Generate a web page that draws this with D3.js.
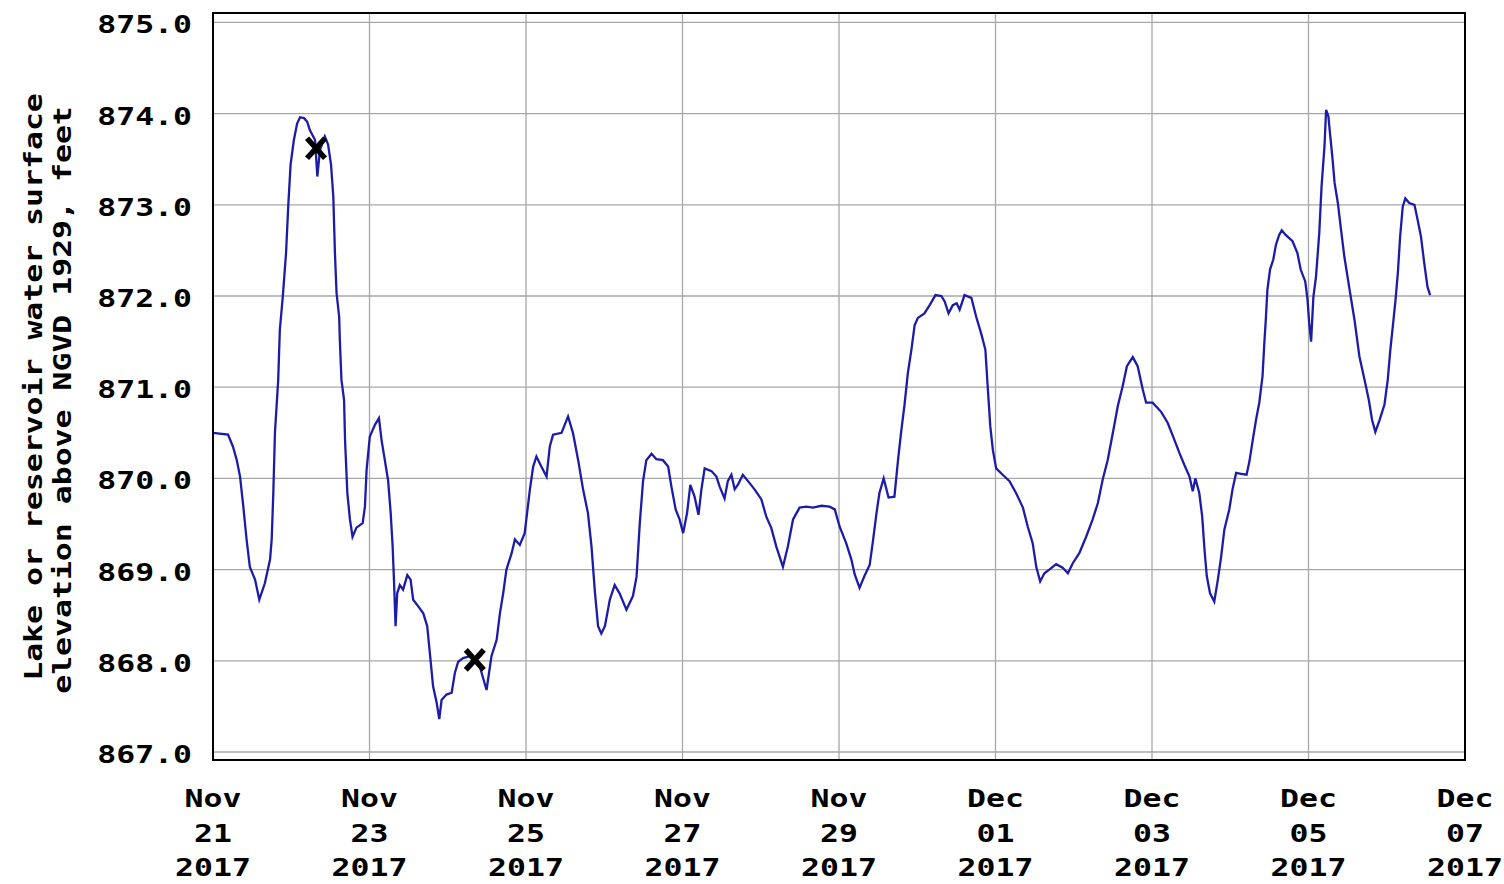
<!DOCTYPE html>
<html>
<head>
<meta charset="utf-8">
<script src="https://cdn.jsdelivr.net/npm/d3@7"></script>
<style>
  html, body { margin: 0; padding: 0; background: #ffffff; }
  svg { display: block; }
  .lbl { font-family: "DejaVu Sans Mono", "Liberation Mono", monospace; font-weight: bold; font-size: 25px; fill: #000; }
</style>
</head>
<body>
<svg id="chart" width="1504" height="884"></svg>
<script>
// ---- Data (hours after 2017-11-21 00:00, elevation in feet) ----
const startDate = Date.UTC(2017, 10, 21, 0, 0, 0);
const endDate = Date.UTC(2017, 11, 7, 0, 0, 0);
const hours = [
  0, 4.6, 6.1, 7.3, 8.3, 9.3, 10.3, 11.3, 12.9, 14.2, 15.9, 17.5, 18.0, 18.5, 19.0, 20.0, 20.5, 21.4, 22.4, 23.1,
  23.8, 24.8, 25.8, 26.7, 27.9, 28.9, 29.7, 31.3, 32.0, 32.8, 34.3, 35.3, 36.2, 36.9, 37.4, 37.9, 38.7, 38.9, 39.4, 40.2,
  40.5, 41.2, 42.0, 42.8, 44.0, 45.9, 46.6, 47.1, 48.1, 49.7, 50.9, 51.7, 52.7, 53.7, 54.5, 55.1, 55.5, 56.0, 56.5, 57.3,
  58.3, 59.6, 60.6, 61.4, 62.9, 64.5, 65.7, 66.5, 67.5, 68.6, 69.4, 70.1, 71.6, 73.2, 74.2, 75.2, 76.7, 78.8, 81.8, 83.9,
  85.4, 87.0, 88.0, 89.0, 90.0, 91.6, 92.6, 94.1, 95.6, 97.2, 98.2, 99.2, 100.7, 102.3, 103.3, 104.3, 106.9, 108.9, 110.4, 112.0,
  113.5, 115.0, 116.1, 117.1, 118.1, 119.1, 120.2, 121.7, 123.2, 124.7, 126.8, 128.8, 129.9, 130.9, 131.9, 132.9, 134.5, 136.0, 138.0, 139.6,
  140.6, 141.9, 143.1, 144.2, 145.4, 146.4, 147.7, 148.9, 149.8, 150.8, 152.9, 154.4, 155.4, 156.9, 157.9, 159.0, 160.0, 161.0, 162.5, 164.1,
  166.1, 168.2, 169.7, 171.2, 172.8, 174.8, 176.3, 177.9, 179.9, 182.0, 184.0, 186.6, 189.1, 190.7, 192.2, 194.2, 195.8, 196.8, 198.3, 199.8,
  201.4, 202.4, 203.5, 204.4, 205.7, 207.2, 209.0, 210.1, 211.1, 212.1, 213.1, 214.2, 215.2, 216.2, 218.2, 219.8, 221.6, 223.4, 224.4, 225.6,
  226.9, 228.1, 229.0, 230.5, 232.6, 234.1, 235.6, 236.9, 237.6, 238.4, 239.2, 240.2, 242.2, 244.3, 246.3, 248.4, 249.9, 251.4, 252.5, 253.7,
  255.0, 256.5, 258.6, 260.6, 262.2, 263.7, 265.7, 267.8, 269.8, 271.4, 272.9, 274.4, 276.0, 277.5, 279.0, 280.3, 282.1, 283.6, 285.2, 286.2,
  288.2, 290.8, 292.8, 294.9, 296.4, 297.9, 299.5, 300.5, 301.3, 302.5, 303.4, 304.1, 304.8, 305.8, 307.1, 308.2, 309.2, 310.2, 311.7, 312.7,
  313.8, 315.3, 317.0, 317.9, 318.9, 319.9, 320.9, 321.9, 322.4, 322.9, 323.4, 324.2, 325.2, 326.0, 327.0, 327.8, 329.0, 331.1, 332.6, 333.6,
  335.0, 335.7, 336.2, 336.8, 337.5, 338.3, 339.3, 340.0, 340.9, 341.4, 342.1, 342.6, 343.3, 344.0, 345.0, 346.0, 347.0, 348.6, 350.1, 351.6,
  353.2, 354.5, 355.5, 356.5, 357.8, 359.3, 360.3, 361.1, 361.9, 362.7, 363.4, 364.1, 364.9, 365.7, 366.9, 368.5, 369.5, 370.5, 371.5, 372.5,
  373.3
];
const elevation = [
  870.50, 870.48, 870.35, 870.20, 870.02, 869.69, 869.33, 869.03, 868.89, 868.67, 868.85, 869.11, 869.33, 869.84, 870.50, 871.08, 871.63, 871.99, 872.47, 873.00,
  873.44, 873.71, 873.89, 873.96, 873.95, 873.91, 873.82, 873.71, 873.31, 873.60, 873.75, 873.66, 873.44, 873.09, 872.47, 872.03, 871.77, 871.52, 871.08, 870.86,
  870.42, 869.84, 869.55, 869.36, 869.46, 869.51, 869.69, 870.09, 870.46, 870.59, 870.66, 870.42, 870.20, 869.98, 869.62, 869.25, 868.89, 868.38, 868.74, 868.83,
  868.78, 868.94, 868.89, 868.67, 868.60, 868.52, 868.38, 868.09, 867.72, 867.54, 867.36, 867.57, 867.63, 867.65, 867.87, 867.99, 868.03, 868.05, 867.94, 867.68,
  868.05, 868.23, 868.52, 868.74, 869.00, 869.18, 869.33, 869.27, 869.40, 869.88, 870.13, 870.24, 870.13, 870.02, 870.35, 870.48, 870.50, 870.68, 870.50, 870.20,
  869.88, 869.62, 869.25, 868.77, 868.38, 868.30, 868.38, 868.67, 868.83, 868.74, 868.56, 868.71, 868.92, 869.51, 869.97, 870.20, 870.27, 870.21, 870.20, 870.13,
  869.91, 869.66, 869.55, 869.40, 869.62, 869.93, 869.80, 869.60, 869.88, 870.11, 870.08, 870.02, 869.91, 869.78, 869.97, 870.04, 869.88, 869.93, 870.04, 869.97,
  869.88, 869.77, 869.58, 869.46, 869.25, 869.03, 869.25, 869.55, 869.68, 869.69, 869.68, 869.70, 869.69, 869.66, 869.47, 869.29, 869.11, 868.95, 868.80, 868.93,
  869.05, 869.31, 869.62, 869.84, 870.00, 869.79, 869.80, 870.20, 870.52, 870.81, 871.15, 871.41, 871.68, 871.76, 871.81, 871.90, 872.01, 872.00, 871.94, 871.81,
  871.90, 871.92, 871.85, 872.01, 871.98, 871.77, 871.59, 871.41, 871.01, 870.57, 870.31, 870.11, 870.04, 869.97, 869.84, 869.68, 869.47, 869.29, 869.03, 868.87,
  868.96, 869.00, 869.06, 869.02, 868.96, 869.07, 869.18, 869.36, 869.55, 869.73, 869.99, 870.20, 870.50, 870.79, 871.01, 871.23, 871.33, 871.23, 870.97, 870.83,
  870.83, 870.73, 870.61, 870.42, 870.28, 870.15, 870.02, 869.86, 870.00, 869.84, 869.58, 869.22, 868.93, 868.74, 868.65, 868.89, 869.14, 869.44, 869.66, 869.88,
  870.06, 870.05, 870.04, 870.19, 870.42, 870.64, 870.83, 871.12, 871.45, 871.74, 872.07, 872.29, 872.40, 872.56, 872.67, 872.72, 872.67, 872.60, 872.47, 872.29,
  872.16, 871.96, 871.71, 871.50, 871.99, 872.21, 872.69, 873.20, 873.64, 874.04, 873.97, 873.78, 873.53, 873.24, 873.02, 872.72, 872.43, 872.07, 871.74, 871.34,
  871.08, 870.86, 870.64, 870.51, 870.64, 870.81, 871.08, 871.41, 871.68, 871.96, 872.25, 872.65, 872.98, 873.07, 873.02, 873.00, 872.83, 872.65, 872.36, 872.10,
  872.01
];
const markerHours = [31.6, 80.3];
const markerValues = [873.62, 868.01];
const yTicks = [867, 868, 869, 870, 871, 872, 873, 874, 875];
const yTitleLines = ["Lake or reservoir water surface", "elevation above NGVD 1929, feet"];

// ---- Layout ----
const svg = d3.select("#chart");
const plot = { left: 213, right: 1465, top: 13, bottom: 760 };
const sx = 1.26; // horizontal stretch of the wide bitmap-like font
const x = d3.scaleUtc().domain([new Date(startDate), new Date(endDate)]).range([plot.left, plot.right]);
const y = d3.scaleLinear().domain([867, 875]).range([752, 22.4]);

const toDate = h => new Date(startDate + h * 3600e3);
const data = hours.map((h, i) => ({ t: toDate(h), v: elevation[i] }));

// grid
const xTicks = x.ticks(d3.utcDay.every(2));
svg.append("g").selectAll("line").data(yTicks).join("line")
  .attr("x1", plot.left).attr("x2", plot.right)
  .attr("y1", d => y(d)).attr("y2", d => y(d))
  .attr("stroke", "#a8a8a8").attr("stroke-width", 1.3);
svg.append("g").selectAll("line").data(xTicks).join("line")
  .attr("x1", d => x(d)).attr("x2", d => x(d))
  .attr("y1", plot.top).attr("y2", plot.bottom)
  .attr("stroke", "#a8a8a8").attr("stroke-width", 1.3);

// data line
const line = d3.line().x(d => x(d.t)).y(d => y(d.v));
svg.append("path").datum(data)
  .attr("d", line)
  .attr("fill", "none")
  .attr("stroke", "#1c1ca8")
  .attr("stroke-width", 2.3)
  .attr("stroke-linejoin", "miter");

// markers
const markers = markerHours.map((h, i) => ({ t: toDate(h), v: markerValues[i] }));
const mg = svg.append("g");
markers.forEach(m => {
  const cx = x(m.t), cy = y(m.v), sw = 9, sh = 10;
  mg.append("path")
    .attr("d", `M${cx - sw},${cy - sh}L${cx + sw},${cy + sh}M${cx - sw},${cy + sh}L${cx + sw},${cy - sh}`)
    .attr("stroke", "#000").attr("stroke-width", 5.5).attr("fill", "none");
});

// frame
svg.append("rect")
  .attr("x", plot.left).attr("y", plot.top)
  .attr("width", plot.right - plot.left).attr("height", plot.bottom - plot.top)
  .attr("fill", "none").attr("stroke", "#000").attr("stroke-width", 2);

// y tick labels
svg.append("g").selectAll("text").data(yTicks).join("text")
  .attr("class", "lbl")
  .attr("transform", d => `translate(192,${y(d) + 11}) scale(${sx},1)`)
  .attr("text-anchor", "end")
  .text(d => d3.format(".1f")(d));

// x tick labels
const fmtM = d3.utcFormat("%b"), fmtD = d3.utcFormat("%d"), fmtY = d3.utcFormat("%Y");
const xl = svg.append("g").selectAll("g").data(xTicks).join("g")
  .attr("transform", d => `translate(${x(d)},0) scale(${sx},1)`);
xl.append("text").attr("class", "lbl").attr("text-anchor", "middle").attr("y", 807).text(d => fmtM(d));
xl.append("text").attr("class", "lbl").attr("text-anchor", "middle").attr("y", 842).text(d => fmtD(d));
xl.append("text").attr("class", "lbl").attr("text-anchor", "middle").attr("y", 876).text(d => fmtY(d));

// y axis title (two lines, rotated)
svg.append("text").attr("class", "lbl")
  .attr("transform", `translate(42,387) rotate(-90) scale(${sx},1)`)
  .attr("text-anchor", "middle")
  .text(yTitleLines[0]);
svg.append("text").attr("class", "lbl")
  .attr("transform", `translate(71,400) rotate(-90) scale(${sx},1)`)
  .attr("text-anchor", "middle")
  .text(yTitleLines[1]);
</script>
</body>
</html>
